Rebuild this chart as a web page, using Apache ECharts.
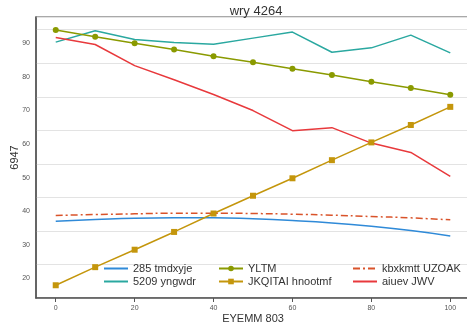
<!DOCTYPE html>
<html><head><meta charset="utf-8">
<script src="https://cdn.jsdelivr.net/npm/echarts@6/dist/echarts.min.js"></script>
<style>html,body{margin:0;padding:0;background:#fff}#c{width:467px;height:325px}</style>
</head><body><div id="c"></div>
<script>
const xValues = [0,10,20,30,40,50,60,70,80,90,100];
const xTicks = [0,20,40,60,80,100];
const yTicks = [20,30,40,50,60,70,80,90];
const s285 = [37.0,37.5,37.9,38.0,38.0,37.7,37.2,36.5,35.5,34.2,32.6];
const s5209 = [90.4,93.8,91.2,90.3,89.8,91.6,93.4,87.4,88.7,92.5,87.2];
const sYLTM = [94.0,92.0,90.1,88.2,86.2,84.4,82.5,80.6,78.6,76.7,74.7];
const sJKQ = [17.9,23.3,28.5,33.8,39.3,44.6,49.8,55.2,60.5,65.7,71.1];
const sKbx = [38.7,39.0,39.2,39.4,39.4,39.3,39.1,38.8,38.4,38.0,37.4];
const sAiu = [91.8,89.7,83.4,79.2,74.8,70.0,64.0,64.9,60.3,57.5,50.4];
const names = ['285 tmdxyje','5209 yngwdr','YLTM','JKQITAI hnootmf','kbxkmtt UZOAK','aiuev JWV'];
const colors = ['#2f8ad8','#2aa8a0','#8a9a00','#c4960c','#d9532a','#e8393c'];

const pair = a => xValues.map((x,i)=>[x,a[i]]);
const font = 'Liberation Sans, Arial, sans-serif';
const chart = echarts.init(document.getElementById('c'), null, {renderer:'canvas'});
const legendBase = {orient:'vertical', top:258, itemWidth:24, itemHeight:7, itemGap:2,
  textStyle:{fontSize:11, color:'#333', fontFamily:font}};
const plain = (i, extra) => Object.assign({name:names[i], type:'line', data:null, showSymbol:false,
  symbol:'circle', symbolSize:6, itemStyle:{color:colors[i], opacity:0},
  lineStyle:{color:colors[i], width:1.5}}, extra);
chart.setOption({
  animation:false,
  backgroundColor:'#fff',
  title:{text:'wry 4264', left:251, top:0, textAlign:'center',
    textStyle:{fontSize:13, fontWeight:'normal', color:'#333', fontFamily:font}},
  grid:{left:36, right:-3, top:17, bottom:27, outerBoundsMode:'none', containLabel:false,
    show:true, borderColor:'#555', borderWidth:1.2, backgroundColor:'#fff'},
  legend:[
    Object.assign({left:98, data:[names[0],names[1]]}, legendBase),
    Object.assign({left:213, data:[names[2],names[3]]}, legendBase),
    Object.assign({left:347, data:[names[4],names[5]]}, legendBase)
  ],
  xAxis:{type:'value', min:-5, max:105,
    name:'EYEMM 803', nameLocation:'middle', nameGap:15, nameMoveOverlap:false,
    nameTextStyle:{fontSize:11, color:'#333', fontFamily:font},
    axisLine:{onZero:false, lineStyle:{color:'#555', width:1.5}},
    axisTick:{show:true, customValues:xTicks, length:4, lineStyle:{color:'#555'}},
    axisLabel:{customValues:xTicks, fontSize:7, color:'#555', margin:7, fontFamily:font},
    splitLine:{show:false}},
  yAxis:{type:'value', min:14.1, max:97.9, interval:10,
    name:'6947', nameLocation:'middle', nameGap:16, nameMoveOverlap:false,
    nameTextStyle:{fontSize:11, color:'#333', fontFamily:font},
    axisLine:{show:true, onZero:false, lineStyle:{color:'#555', width:1.5}},
    axisTick:{show:false},
    axisLabel:{customValues:yTicks, fontSize:7, color:'#555', margin:6, fontFamily:font},
    splitLine:{show:true, lineStyle:{color:'#e3e3e3', width:1}}},
  series:[
    plain(0, {smooth:true, data:pair(s285)}),
    plain(1, {data:pair(s5209)}),
    {name:names[2], type:'line', data:pair(sYLTM), symbol:'circle', symbolSize:6,
      lineStyle:{color:colors[2], width:1.5}, itemStyle:{color:colors[2]}},
    {name:names[3], type:'line', data:pair(sJKQ), symbol:'rect', symbolSize:6,
      lineStyle:{color:colors[3], width:1.5}, itemStyle:{color:colors[3]}},
    plain(4, {smooth:true, data:pair(sKbx), lineStyle:{color:colors[4], width:1.5, type:[7,3,2,3]}}),
    plain(5, {data:pair(sAiu)})
  ]
});
</script></body></html>
